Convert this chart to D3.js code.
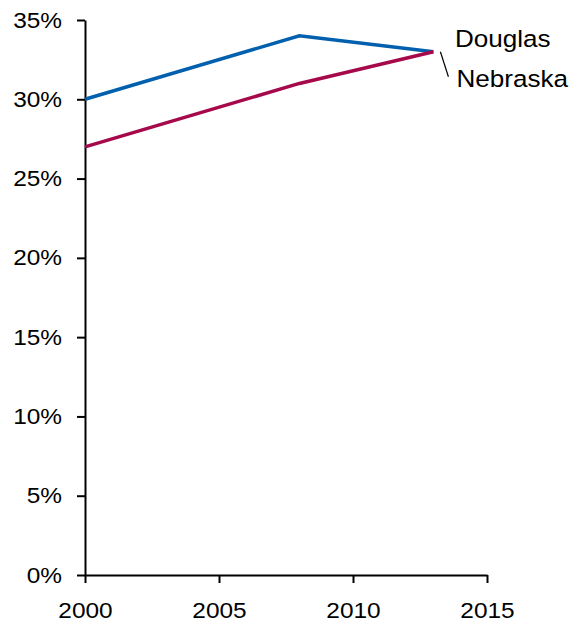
<!DOCTYPE html>
<html>
<head>
<meta charset="utf-8">
<script src="https://cdn.jsdelivr.net/npm/d3@7"></script>
<style>
  html, body { margin: 0; padding: 0; background: #fff; }
  svg { display: block; font-family: "Liberation Sans", Arial, sans-serif; }
</style>
</head>
<body>
<svg id="chart" width="570" height="624"></svg>
<script>
// Share of population, by year
const years = [2000, 2008, 2013];
const douglas = [0.30, 0.34, 0.33];
const nebraska = [0.27, 0.31, 0.33];
const seriesNames = ["Douglas", "Nebraska"];
const seriesColors = ["#0060AE", "#A6094B"];
const xTicks = [2000, 2005, 2010, 2015];
const yTicks = [0, 0.05, 0.10, 0.15, 0.20, 0.25, 0.30, 0.35];

const svg = d3.select("#chart");
const margin = { left: 85, right: 83, top: 20, bottom: 49 };
const W = 570, H = 624;
const stretch = 1.11; // slightly wide lettering

const x = d3.scaleLinear().domain([2000, 2015]).range([margin.left, W - margin.right]);
const y = d3.scaleLinear().domain([0, 0.35]).range([H - margin.bottom, margin.top]);

// widen a text element horizontally around its anchor x
function widen(sel) {
  sel.attr("transform", function () {
    const ax = +d3.select(this).attr("x") || 0;
    return `translate(${ax},0) scale(${stretch},1) translate(${-ax},0)`;
  });
}

// y axis
const yAxis = svg.append("g")
  .attr("transform", `translate(${margin.left},0)`)
  .call(d3.axisLeft(y).tickValues(yTicks).tickFormat(d3.format(".0%")).tickSize(8).tickSizeOuter(0).tickPadding(15));
// x axis
const xAxis = svg.append("g")
  .attr("transform", `translate(0,${y(0)})`)
  .call(d3.axisBottom(x).tickValues(xTicks).tickFormat(d3.format("d")).tickSize(8).tickSizeOuter(0).tickPadding(19));

[yAxis, xAxis].forEach(g => {
  g.select(".domain").attr("stroke", "#000").attr("stroke-width", 2);
  g.selectAll(".tick line").attr("stroke", "#000").attr("stroke-width", 2);
  g.selectAll(".tick text").attr("fill", "#000").style("font-size", "22px")
    .style("font-family", '"Liberation Sans", Arial, sans-serif')
    .call(widen);
});

// lines
const line = d3.line().x((d, i) => x(years[i])).y(d => y(d));
[douglas, nebraska].forEach((s, i) => {
  svg.append("path")
    .datum(s)
    .attr("fill", "none")
    .attr("stroke", seriesColors[i])
    .attr("stroke-width", 3.5)
    .attr("stroke-linejoin", "miter")
    .attr("d", line);
});

// end labels
const lastX = x(years[years.length - 1]);
const lastY = y(douglas[douglas.length - 1]);
svg.append("line")
  .attr("x1", lastX + 7).attr("y1", lastY)
  .attr("x2", lastX + 15).attr("y2", lastY + 25)
  .attr("stroke", "#000").attr("stroke-width", 1.2);

svg.append("text")
  .attr("x", lastX + 21.5).attr("y", lastY - 5)
  .style("font-size", "23.5px").attr("fill", "#000")
  .text(seriesNames[0])
  .call(widen);
svg.append("text")
  .attr("x", lastX + 23).attr("y", lastY + 35)
  .style("font-size", "23.5px").attr("fill", "#000")
  .text(seriesNames[1])
  .call(widen);
</script>
</body>
</html>
